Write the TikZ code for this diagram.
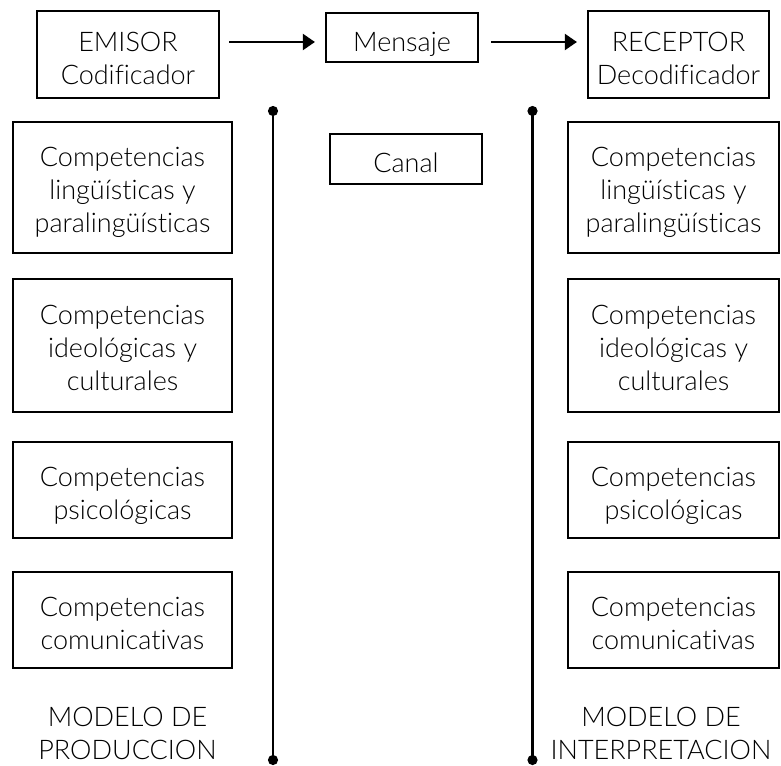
\documentclass[tikz,border=0pt]{standalone}
\usepackage{fontspec}
\setmainfont{Lato Light}[Ligatures=NoCommon]
\usetikzlibrary{arrows.meta}

\begin{document}
\begin{tikzpicture}[x=1pt,y=1pt,node distance=130pt,
    every node/.style={font=\fontsize{27}{33}\selectfont,text=black,align=center},
    one/.style={text height=34.5pt,text depth=7pt},
    two/.style={text height=66.5pt,text depth=7pt},
    three/.style={text height=97.5pt,text depth=7pt},
    modelo/.style={text height=59.5pt,text depth=0pt,inner sep=0pt},
    box/.style={draw=black,line width=2.2pt,inner sep=0pt,minimum width=182pt,minimum height=87pt},
    smallbox/.style={box,one,minimum width=152pt,minimum height=49pt},
    comp/.style={box,minimum width=219pt},
    arr/.style={-{Triangle[length=12pt,width=16pt]},line width=2pt},
    eje/.style={{Circle[length=10pt]}-{Circle[length=10pt]},line width=2.4pt}]
      \useasboundingbox (0,0) rectangle (781,-765);

      \node[box,two] (1) at (128,-54.5) {EMISOR\\Codificador};
      \node[smallbox,right of=1,xshift=144,yshift=17] (2) {Mensaje};
      \node[box,two,minimum width=181pt,right of=2,xshift=146.5,yshift=-17] (3) {RECEPTOR\\Decodificador};
      \node[smallbox,minimum height=50pt,below of=2,xshift=4,yshift=8.5] (4) {Canal};

      \node[comp,three,minimum height=131pt] (5) at (122.5,-187.5) {Competencias\\lingüísticas y\\paralingüísticas};
      \node[comp,three,minimum height=133pt,below of=5,yshift=-28] (6) {Competencias\\ideológicas y\\culturales};
      \node[comp,two,minimum height=96pt,below of=6,yshift=-14.5] (7) {Competencias\\psicológicas};
      \node[comp,two,minimum height=96pt,below of=7] (8) {Competencias\\comunicativas};

      \node[comp,three,minimum width=211pt,minimum height=131pt,right of=5,xshift=421] (9) {Competencias\\lingüísticas y\\paralingüísticas};
      \node[comp,three,minimum width=211pt,minimum height=133pt,below of=9,yshift=-28] (10) {Competencias\\ideológicas y\\culturales};
      \node[comp,two,minimum width=211pt,minimum height=96pt,below of=10,yshift=-14.5] (11) {Competencias\\psicológicas};
      \node[comp,two,minimum width=211pt,minimum height=96pt,below of=11] (12) {Competencias\\comunicativas};

      \node[modelo,below of=8,xshift=5,yshift=20] (13) {MODELO DE\\PRODUCCION};
      \node[modelo,below of=12,xshift=-12.5,yshift=20] (14) {MODELO DE\\INTERPRETACION};

      \coordinate (15) at (273,-106);
      \coordinate (16) at (273,-765);
      \coordinate (17) at (532.5,-106);
      \coordinate (18) at (532.5,-765);

      \draw[arr,shorten <=9pt,shorten >=10pt] ([yshift=12.5]1.east) -- ([yshift=12.5]1.east -| 2.west);
      \draw[arr,shorten <=12pt,shorten >=10pt] ([yshift=-4.5]2.east) -- ([yshift=-4.5]2.east -| 3.west);
      \draw[eje] (15) -- (16);
      \draw[eje] (17) -- (18);
    \end{tikzpicture}
\end{document}
